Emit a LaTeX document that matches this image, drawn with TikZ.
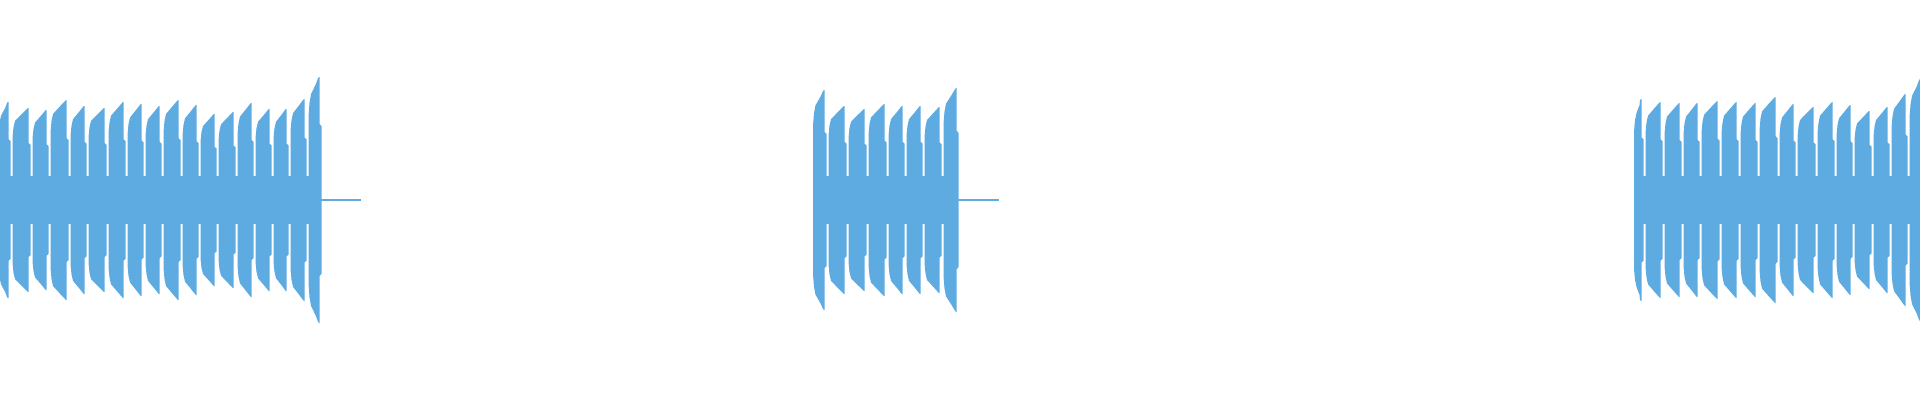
\documentclass[tikz,border=0pt]{standalone}
\definecolor{wave}{RGB}{93,171,224}
\begin{document}
\begin{tikzpicture}[x=1pt,y=1pt]
\useasboundingbox (0,-200) rectangle (1920,200);
\def\g{24}
\newcommand{\wavepulse}[3]{%
  \pgfmathsetmacro{\LL}{#1+0.5}\pgfmathsetmacro{\RR}{#2}\pgfmathsetmacro{\AA}{#3}%
  \pgfmathsetmacro{\MM}{0.5*(\LL+\RR)}%
  \fill[wave] (\LL,\g)--(\LL,.68*\AA)--(\LL+1,.79*\AA)--(\LL+2.5,.86*\AA)--(\MM,.94*\AA)--(\RR-5,.99*\AA)--(\RR-4,\AA)--(\RR-3.5,\AA)--(\RR-3.5,.62*\AA)--(\RR-1.5,.6*\AA)--(\RR-1.5,\g)
   --(\RR-1.5,-\g)--(\RR-1.5,-.6*\AA)--(\RR-3.5,-.62*\AA)--(\RR-3.5,-\AA)--(\RR-4,-\AA)--(\RR-5,-.99*\AA)--(\MM,-.94*\AA)--(\LL+2.5,-.86*\AA)--(\LL+1,-.79*\AA)--(\LL,-.68*\AA)--(\LL,-\g)--cycle;}
% segment 1
\fill[wave] (0,-\g) rectangle (321,\g);
\foreach \L/\R/\A in {-2/12/98,12/32/92,32/50/90,50/70/100,70/88/94,88/108/92,108/127/98,127/145/96,145/163/94,163/182/100,182/200/95,200/218/86,218/237/88,237/255/97,255/273/91,273/290/91,290/308/101,308/323/123}
  {\wavepulse{\L}{\R}{\A}}
\fill[wave] (321,-1.2) rectangle (361,1.2);
% segment 2
\fill[wave] (813,-\g) rectangle (958,\g);
\foreach \L/\R/\A in {812.5/828/110,828/848/94,848/868/91,868/888/96,888/906/94,906/924/94,924/943/93,943/960/112}
  {\wavepulse{\L}{\R}{\A}}
\fill[wave] (958,-1.2) rectangle (999,1.2);
% segment 3
\fill[wave] (1634,-\g) rectangle (1920,\g);
\foreach \L/\R/\A in {1633.5/1645/101,1645/1664/98,1664/1683/97,1683/1701/97,1701/1721/99,1721/1740/98,1740/1759/97,1759/1779/103,1779/1797/96,1797/1817/93,1817/1836/98,1836/1854/95,1854/1873/89,1873/1891/93,1891/1909/106,1909/1924/121}
  {\wavepulse{\L}{\R}{\A}}
\end{tikzpicture}
\end{document}
